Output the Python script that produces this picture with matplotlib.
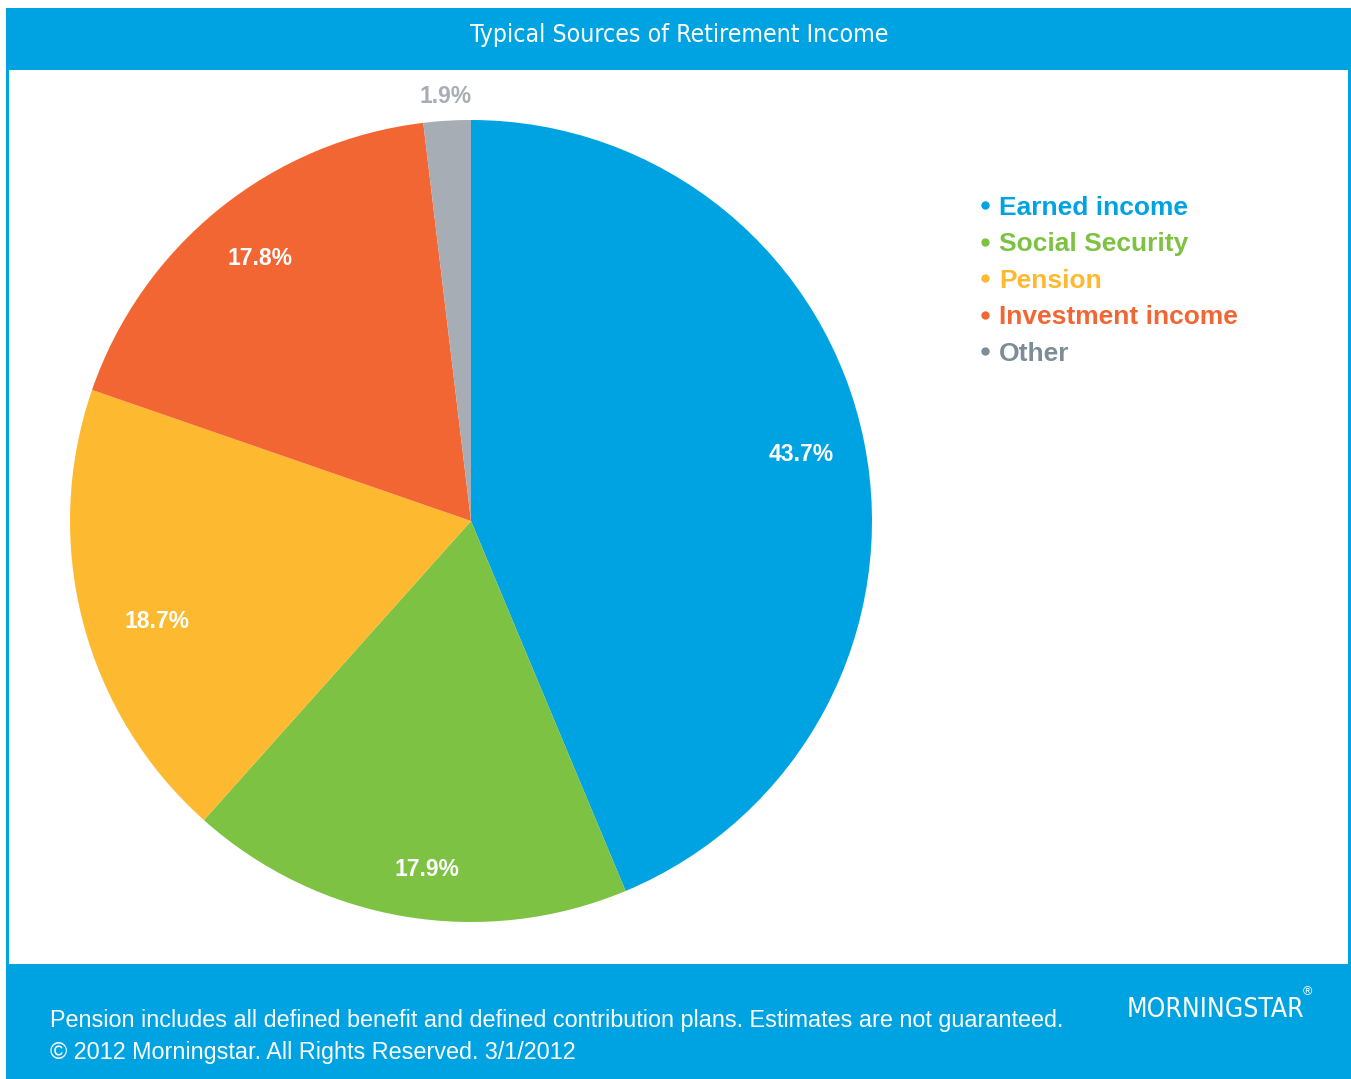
import numpy as np
import matplotlib
matplotlib.use('Agg')
import matplotlib.pyplot as plt
from matplotlib.patches import Rectangle

title = 'Typical Sources of Retirement Income'
categories = ['Earned income', 'Social Security', 'Pension', 'Investment income', 'Other']
shares = [43.7, 17.9, 18.7, 17.8, 1.9]
slice_colors = ['#00A3E2', '#7DC242', '#FDB92F', '#F26633', '#A7ADB4']
legend_colors = ['#00A3E2', '#7DC242', '#FDB92F', '#F26633', '#7C8D96']
footnote = ['Pension includes all defined benefit and defined contribution plans. Estimates are not guaranteed.',
            '\u00a9 2012 Morningstar. All Rights Reserved. 3/1/2012']

W, H = 1351, 1079
fig = plt.figure(figsize=(W / 100, H / 100), dpi=100)
fig.patch.set_facecolor('white')

# background frame
bg = fig.add_axes([0, 0, 1, 1])
bg.set_xlim(0, W); bg.set_ylim(H, 0); bg.axis('off')
blue = '#00A3E2'
bg.add_patch(Rectangle((6, 8), W - 6, H - 8, color=blue, lw=0))
bg.add_patch(Rectangle((9, 70), 1339, 894, color='white', lw=0))

bg.text(679, 35, title, color='white', fontsize=17.8, family='DejaVu Sans', fontstretch='condensed',
        ha='center', va='center')

# pie
cx, cy, r = 471, 521, 401
ax = fig.add_axes([(cx - r) / W, 1 - (cy + r) / H, 2 * r / W, 2 * r / H])
wedges, texts, autotexts = ax.pie(shares, colors=slice_colors, startangle=90, counterclock=False,
                                  autopct='%.1f%%', pctdistance=0.84,
                                  wedgeprops=dict(linewidth=0),
                                  textprops=dict(color='white', fontsize=16.5, fontweight='bold',
                                                 family='Liberation Sans'))
ax.set_xlim(-1, 1); ax.set_ylim(-1, 1)
ax.set_aspect('auto')
# labels sit a touch lower than the wedge middle in the original
for t in autotexts[1:3]:
    x, y = t.get_position()
    t.set_position((x + 0.03, y - 0.04))
# small slice label sits outside
w = wedges[-1]
ang = np.deg2rad((w.theta1 + w.theta2) / 2)
autotexts[-1].set_position((1.07 * np.cos(ang), 1.06 * np.sin(ang)))
autotexts[-1].set_color('#A7ADB4')

# legend
for i, (name, col) in enumerate(zip(categories, legend_colors)):
    y = 208 + i * 36.5
    bg.plot(985, y - 3, 'o', color=col, markersize=6, mec='none')
    bg.text(999, y, name, color=col, fontsize=19, fontweight='bold',
            family='Liberation Sans', ha='left', va='center')

# footer
for i, line in enumerate(footnote):
    bg.text(50, 1021 + i * 31, line, color='white', fontsize=16.85,
            family='Liberation Sans', ha='left', va='center')
bg.text(1127, 1010, 'MORNINGSTAR', color='white', fontsize=19,
        family='DejaVu Sans', fontstretch='condensed', ha='left', va='center')
bg.text(1303, 992, '\u00ae', color='white', fontsize=9, family='Liberation Sans',
        ha='left', va='center')

fig.savefig('out.png', dpi=100, facecolor='white')
